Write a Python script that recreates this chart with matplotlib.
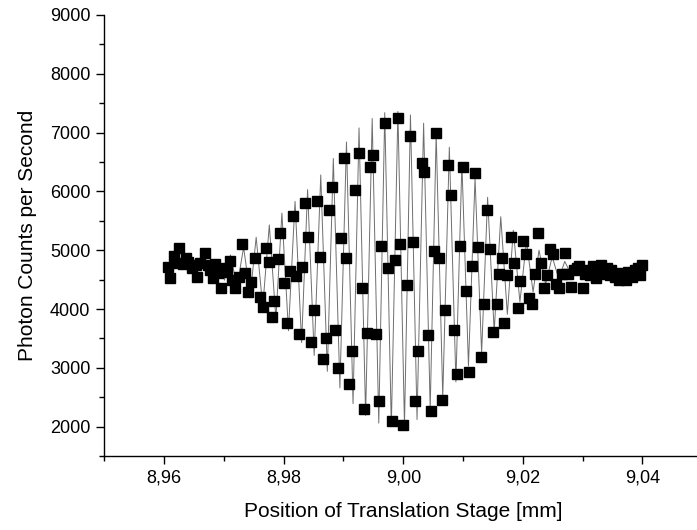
import matplotlib
matplotlib.use("Agg")
import matplotlib.pyplot as plt
from matplotlib.ticker import MultipleLocator, FuncFormatter

# measured points (stage position in mm, counts per second)
pos = [8.9606, 8.9610, 8.9617, 8.9621, 8.9625, 8.9632, 8.9637, 8.9640, 8.9647, 8.9653,
       8.9655, 8.9660, 8.9668, 8.9673, 8.9677, 8.9682, 8.9685, 8.9690, 8.9696, 8.9700,
       8.9705, 8.9710, 8.9714, 8.9719, 8.9726, 8.9730, 8.9735, 8.9741, 8.9745, 8.9752,
       8.9760, 8.9766, 8.9770, 8.9776, 8.9780, 8.9784, 8.9790, 8.9794, 8.9800, 8.9806,
       8.9811, 8.9815, 8.9821, 8.9826, 8.9831, 8.9836, 8.9841, 8.9846, 8.9850, 8.9855,
       8.9861, 8.9866, 8.9871, 8.9876, 8.9880, 8.9886, 8.9891, 8.9896, 8.9901, 8.9905,
       8.9910, 8.9915, 8.9920, 8.9926, 8.9931, 8.9935, 8.9940, 8.9945, 8.9950, 8.9955,
       8.9960, 8.9963, 8.9969, 8.9975, 8.9981, 8.9986, 8.9991, 8.9995, 9.0000, 9.0006,
       9.0011, 9.0016, 9.0020, 9.0025, 9.0031, 9.0035, 9.0041, 9.0046, 9.0051, 9.0055,
       9.0060, 9.0065, 9.0070, 9.0075, 9.0080, 9.0085, 9.0090, 9.0095, 9.0100, 9.0105,
       9.0110, 9.0115, 9.0120, 9.0125, 9.0130, 9.0135, 9.0140, 9.0145, 9.0150, 9.0156,
       9.0160, 9.0165, 9.0168, 9.0174, 9.0180, 9.0185, 9.0191, 9.0196, 9.0200, 9.0205,
       9.0211, 9.0216, 9.0221, 9.0226, 9.0230, 9.0235, 9.0241, 9.0245, 9.0251, 9.0255,
       9.0260, 9.0265, 9.0270, 9.0276, 9.0280, 9.0285, 9.0290, 9.0294, 9.0300, 9.0304,
       9.0309, 9.0313, 9.0318, 9.0323, 9.0327, 9.0331, 9.0336, 9.0341, 9.0345, 9.0348,
       9.0354, 9.0357, 9.0361, 9.0368, 9.0372, 9.0376, 9.0382, 9.0387, 9.0393, 9.0396,
       9.0400]
counts = [4710, 4520, 4900, 4790, 5030, 4770, 4860, 4800, 4690, 4740,
          4540, 4790, 4960, 4740, 4660, 4520, 4770, 4620, 4350, 4690,
          4630, 4820, 4490, 4350, 4540, 5100, 4620, 4290, 4460, 4860,
          4200, 4040, 5040, 4800, 3870, 4130, 4850, 5290, 4450, 3770,
          4650, 5590, 4560, 3570, 4720, 5810, 5220, 3440, 3990, 5840,
          4890, 3150, 3510, 5690, 6080, 3650, 2990, 5210, 6560, 4870,
          2730, 3290, 6020, 6660, 4360, 2300, 3590, 6410, 6620, 3580,
          2440, 5080, 7170, 4700, 2100, 4830, 7240, 5110, 2020, 4400,
          6940, 5140, 2430, 3280, 6490, 6330, 3560, 2270, 4990, 7000,
          4870, 2460, 3990, 6450, 5940, 3650, 2900, 5080, 6410, 4300,
          2930, 4730, 6320, 5050, 3180, 4080, 5690, 5020, 3610, 4080,
          4590, 4860, 3760, 4570, 5220, 4790, 4020, 4480, 5150, 4930,
          4180, 4090, 4600, 5290, 4780, 4350, 4570, 5020, 4940, 4430,
          4350, 4600, 4950, 4600, 4370, 4660, 4690, 4730, 4350, 4590,
          4670, 4570, 4730, 4520, 4660, 4740, 4600, 4700, 4570, 4660,
          4540, 4620, 4490, 4560, 4500, 4630, 4540, 4670, 4700, 4570,
          4740]

# fitted fringe curve, read as its successive maxima and minima
fit_pos = [8.9690, 8.9701, 8.9711, 8.9722, 8.9733, 8.9744, 8.9754, 8.9765, 8.9776, 8.9787,
           8.9797, 8.9808, 8.9819, 8.9830, 8.9840, 8.9851, 8.9862, 8.9873, 8.9883, 8.9894,
           8.9905, 8.9916, 8.9926, 8.9937, 8.9948, 8.9959, 8.9969, 8.9980, 8.9991, 9.0002,
           9.0012, 9.0023, 9.0034, 9.0045, 9.0055, 9.0066, 9.0077, 9.0088, 9.0098, 9.0109,
           9.0120, 9.0131, 9.0141, 9.0152, 9.0163, 9.0174, 9.0184, 9.0195, 9.0206, 9.0217,
           9.0227, 9.0238, 9.0249, 9.0260, 9.0270, 9.0281, 9.0292]
fit_counts = [4830, 4490, 4920, 4380, 5050, 4230, 5220, 4040, 5430, 3830,
              5630, 3630, 5830, 3430, 6030, 3210, 6280, 2940, 6560, 2660,
              6840, 2390, 7080, 2190, 7240, 2060, 7340, 2000, 7360, 2020,
              7300, 2120, 7160, 2290, 6980, 2500, 6750, 2760, 6480, 3030,
              6230, 3250, 5900, 3620, 5570, 3910, 5340, 4120, 5150, 4290,
              5000, 4420, 4890, 4510, 4810, 4580, 4760]

plt.rcParams['font.family'] = ['Liberation Sans', 'DejaVu Sans']

fig = plt.figure(figsize=(6.97, 5.30), dpi=100)
ax = fig.add_axes([0.1496, 0.1396, 0.858, 0.8321])

ax.plot(fit_pos, fit_counts, color='#6e6e6e', lw=0.7, zorder=1)
ax.plot(pos, counts, ls='none', marker='s', ms=7, color='black', zorder=2)

ax.set_xlim(8.95, 9.05)
ax.set_ylim(1500, 9000)
ax.xaxis.set_major_locator(MultipleLocator(0.02))
ax.xaxis.set_minor_locator(MultipleLocator(0.01))
ax.yaxis.set_major_locator(MultipleLocator(1000))
ax.yaxis.set_minor_locator(MultipleLocator(500))
ax.xaxis.set_major_formatter(FuncFormatter(lambda v, p: f"{v:.2f}".replace('.', ',')))
ax.yaxis.set_major_formatter(FuncFormatter(lambda v, p: f"{v:.0f}" if v >= 2000 else ""))

for s in ['top', 'right']:
    ax.spines[s].set_visible(False)
for s in ['left', 'bottom']:
    ax.spines[s].set_linewidth(1.0)
ax.tick_params(which='major', direction='out', length=6, width=1.0, labelsize=13, pad=4)
ax.tick_params(which='minor', direction='out', length=3.5, width=1.0)

ax.set_xlabel('Position of Translation Stage [mm]', fontsize=15, labelpad=11)
ax.set_ylabel('Photon Counts per Second', fontsize=15, labelpad=9)

fig.savefig('out.png', dpi=100)
